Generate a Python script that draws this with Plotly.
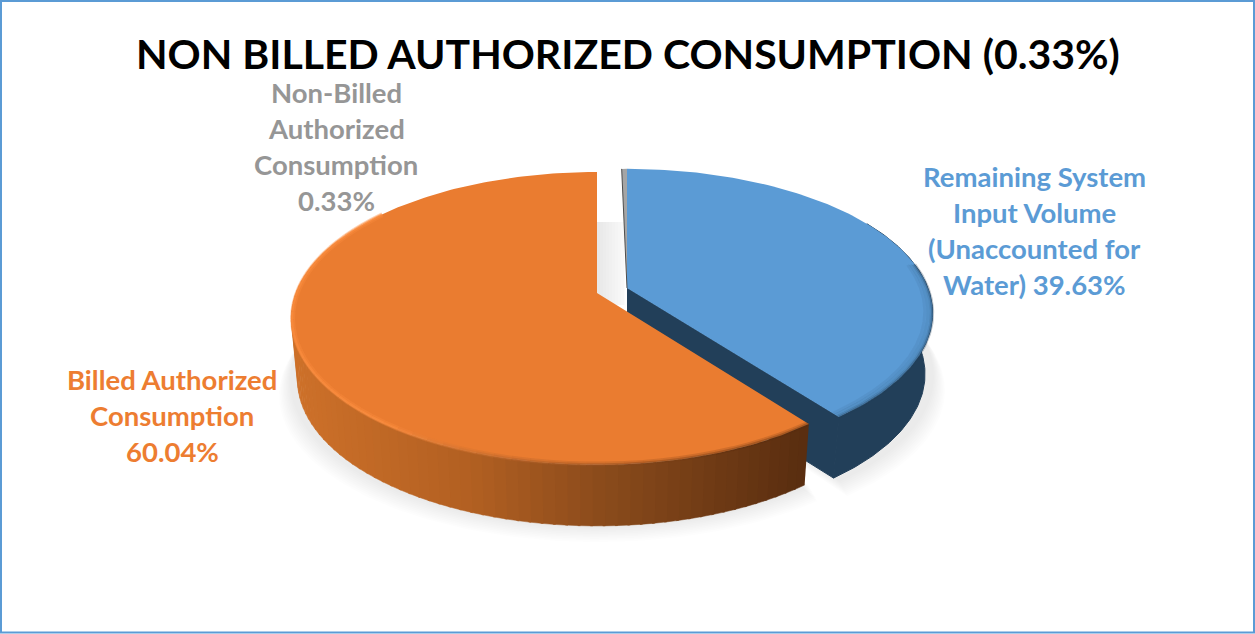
import numpy as np
import plotly.graph_objects as go

# chart data
categories = ["Remaining System Input Volume (Unaccounted for Water)",
              "Non-Billed Authorized Consumption",
              "Billed Authorized Consumption"]
values = [39.63, 0.33, 60.04]
colors = ["#5b9bd5", "#a5a5a5", "#ea7c30"]
title_text = "NON BILLED AUTHORIZED CONSUMPTION (0.33%)"

blue_label = ["Remaining System", "Input Volume", "(Unaccounted for", "Water) 39.63%"]
gray_label = ["Non-Billed", "Authorized", "Consumption", "0.33%"]
orange_label = ["Billed Authorized", "Consumption", "60.04%"]

# tilted pie projection
W, H = 1255, 634
BX, AY, K = 301, 142, 0.174
DEPTH = 61
BLUE_APEX = (627, 288)
ORANGE_APEX = (597, 293)
GRAY_APEX = (627, 288)
BLUE_FLAT = 0.985

ends = np.cumsum(values) / sum(values) * 360
BLUE_END = ends[0]
ORANGE_START = ends[0]
GAP_GRAY = values[1] / sum(values) * 360


def proj(deg, apex, r=1.0, drop=0.0, shrink=1.0, flat=1.0):
    t = np.radians(deg)
    u, v = np.sin(t) * r, np.cos(t) * r
    x = apex[0] + BX * u * shrink / (1 + K * v)
    y = apex[1] - AY * flat * v / (1 + K * v) + drop
    return x, y


def arc(a, b, apex, n=120, **kw):
    return proj(np.linspace(a, b, n), apex, **kw)


def lerp_color(t):
    stops = [(0.0, (206, 113, 42)), (0.35, (178, 96, 34)), (0.6, (140, 76, 28)), (1.0, (90, 46, 16))]
    for (t0, c0), (t1, c1) in zip(stops, stops[1:]):
        if t <= t1:
            f = (t - t0) / (t1 - t0)
            return "rgb(%d,%d,%d)" % tuple(c0[i] + (c1[i] - c0[i]) * f for i in range(3))
    return "rgb(90,46,16)"


def rim_color(a, alpha_scale):
    # dark blur at the right of the front edge, bright bevel towards the left
    t = min(max((a - 155) / 60, 0), 1)
    c0, c1 = (90, 46, 16), (250, 140, 62)
    rgb = [c0[i] + (c1[i] - c0[i]) * t for i in range(3)]
    alpha = (0.4 + (0.85 - 0.4) * t) * alpha_scale
    return "rgba(%d,%d,%d,%.2f)" % (rgb[0], rgb[1], rgb[2], alpha)


fig = go.Figure()


def poly(xs, ys, color, line=0.0):
    fig.add_trace(go.Scatter(x=list(xs), y=list(ys), mode="lines", fill="toself", fillcolor=color,
                             line=dict(color=color, width=line), hoverinfo="skip", showlegend=False))


def stroke(xs, ys, color, width):
    fig.add_trace(go.Scatter(x=list(xs), y=list(ys), mode="lines", line=dict(color=color, width=width),
                             hoverinfo="skip", showlegend=False))


# soft shadow under the pie
for i in range(10):
    grow = 1.0 + 0.004 * (10 - i)
    drop = DEPTH + 1.6 * (10 - i)
    sx, sy = arc(0, BLUE_END, BLUE_APEX, drop=drop, shrink=grow)
    poly(list(sx) + [BLUE_APEX[0]], list(sy) + [BLUE_APEX[1] + DEPTH], "rgba(110,110,110,0.014)")
    sx, sy = arc(BLUE_END, 300, ORANGE_APEX, drop=drop, shrink=grow)
    poly(list(sx) + [ORANGE_APEX[0]], list(sy) + [ORANGE_APEX[1]], "rgba(110,110,110,0.014)")

# shadow seen through the gap between the slices
for i in range(9):
    x0 = ORANGE_APEX[0] + i * 3
    grey = 232 + i * 2
    poly([x0, x0 + 3.5, x0 + 3.5, x0], [222, 222, 305, 305], "rgb(%d,%d,%d)" % (grey, grey, grey))

# blue slice walls
tx, ty = arc(60, BLUE_END, BLUE_APEX, flat=BLUE_FLAT)
bx, by = arc(60, BLUE_END, BLUE_APEX, drop=DEPTH, shrink=0.975, flat=BLUE_FLAT)
poly(list(tx) + list(bx[::-1]), list(ty) + list(by[::-1]), "#223f59", 1)
ex, ey = proj(BLUE_END, BLUE_APEX, flat=BLUE_FLAT)
fx, fy = proj(BLUE_END, BLUE_APEX, drop=DEPTH, shrink=0.975, flat=BLUE_FLAT)
poly([BLUE_APEX[0], ex, fx, BLUE_APEX[0]], [BLUE_APEX[1], ey, fy, BLUE_APEX[1] + DEPTH], "#223f59", 1)

# blue top face with darker soft edge
tx, ty = arc(0, BLUE_END, BLUE_APEX, flat=BLUE_FLAT)
poly(list(tx) + [BLUE_APEX[0]], list(ty) + [BLUE_APEX[1]], colors[0])
for r, a in [(0.975, 0.08), (0.985, 0.12), (0.995, 0.2), (1.0, 0.3)]:
    ix, iy = arc(80, BLUE_END, BLUE_APEX, r=r, flat=BLUE_FLAT)
    stroke(ix, iy, "rgba(34,63,89,%.2f)" % a, 3)

# gray sliver
gx, gy = arc(-GAP_GRAY, 0, GRAY_APEX, n=6, flat=BLUE_FLAT)
poly(list(gx) + [GRAY_APEX[0]], list(gy) + [GRAY_APEX[1]], colors[1])
stroke([gx[0], GRAY_APEX[0]], [gy[0], GRAY_APEX[1]], "#4d4d4d", 1)

# orange wall, shaded left to right
steps = np.arange(ORANGE_START, 292, 2.0)
for a in steps:
    b = a + 2.4
    x1, y1 = proj(np.linspace(a, b, 4), ORANGE_APEX)
    x2, y2 = proj(np.linspace(a, b, 4), ORANGE_APEX, drop=DEPTH, shrink=0.98)
    mid = (x1[0] + x1[-1]) / 2
    t = min(max((mid - 291) / (802 - 291), 0), 1)
    poly(list(x1) + list(x2[::-1]), list(y1) + list(y2[::-1]), lerp_color(t), 0.5)

# orange top face
tx, ty = arc(ORANGE_START, 360, ORANGE_APEX, n=220)
poly(list(tx) + [ORANGE_APEX[0]], list(ty) + [ORANGE_APEX[1]], colors[2])

# bevel along the front rim, blended so there is no step in it
for a in np.arange(ORANGE_START, 305, 3.0):
    seg = np.linspace(a, a + 3.0, 4)
    rx, ry = proj(seg, ORANGE_APEX, r=0.996)
    stroke(rx, ry, rim_color(a, 0.45), 5)
    rx, ry = proj(seg, ORANGE_APEX, r=0.998)
    stroke(rx, ry, rim_color(a, 0.8), 2.5)

# labels, one line at a time so spacing follows the original
LABEL_FONT = "Lato"
LABEL_SIZE = 27.5


def add_lines(lines, cx, y0, color):
    for i, line in enumerate(lines):
        fig.add_annotation(x=cx, y=y0 + i * 36, text=line, showarrow=False, xanchor="center", yanchor="middle",
                           font=dict(family=LABEL_FONT, size=LABEL_SIZE, color=color, weight=700))


add_lines(blue_label, 1034, 176, colors[0])
add_lines(gray_label, 336, 92, "#969696")
add_lines(orange_label, 172, 379, "#ed7d31")

fig.add_annotation(x=628, y=53, text=title_text, showarrow=False, xanchor="center", yanchor="middle",
                   font=dict(family=LABEL_FONT, size=41, color="#000000", weight=700))

# chart frame
fig.add_shape(type="rect", x0=1, y0=1, x1=W - 1, y1=H - 1.5, line=dict(color="#5b9bd5", width=2))

fig.update_xaxes(range=[0, W], visible=False, fixedrange=True)
fig.update_yaxes(range=[H, 0], visible=False, fixedrange=True)
fig.update_layout(width=W, height=H, margin=dict(l=0, r=0, t=0, b=0), paper_bgcolor="white",
                  plot_bgcolor="white", showlegend=False)

# page margin would otherwise push the chart off the window
fig.write_html("out.html", config={"displayModeBar": False},
               post_script="document.body.style.margin='0';document.body.style.overflow='hidden';")
